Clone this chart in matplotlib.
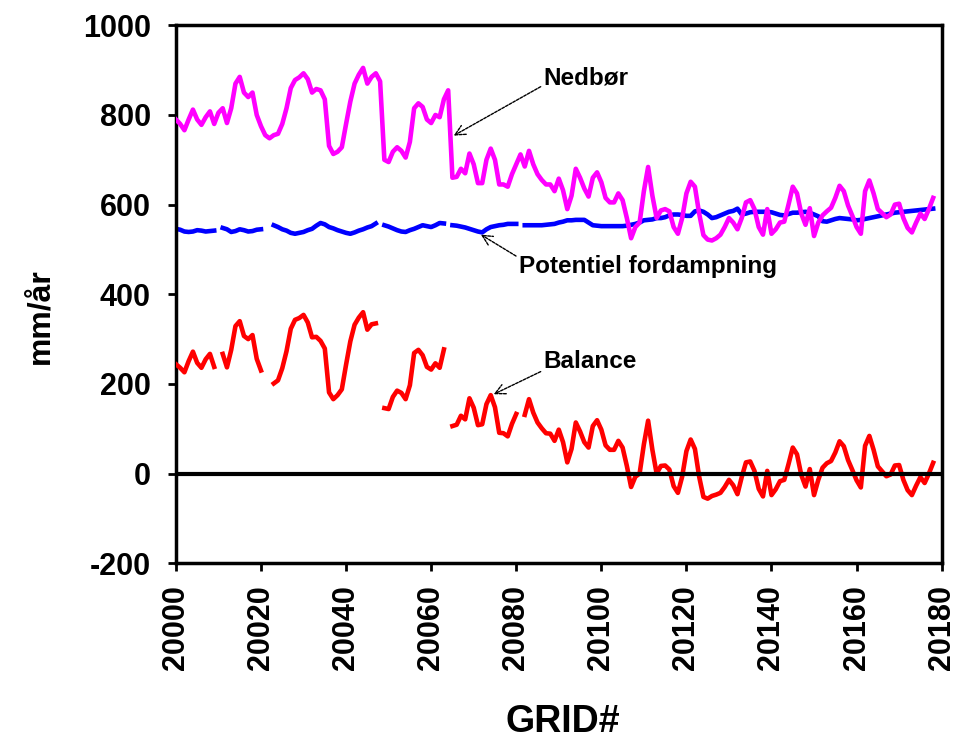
import numpy as np
import matplotlib
matplotlib.use("Agg")
import matplotlib.pyplot as plt

plt.rcParams['font.family'] = ['Liberation Sans', 'DejaVu Sans']
plt.rcParams['font.weight'] = 'bold'
plt.rcParams['axes.unicode_minus'] = False

# grid cell numbers 20000..20178
grid = np.arange(20000, 20179)

# precipitation, mm/year
nedbor = [
    790, 780, 766, 790, 812, 790, 778, 795, 808, 780,
    805, 815, 782, 815, 870, 885, 850, 840, 850, 800,
    775, 755, 748, 755, 758, 780, 815, 860, 878, 884,
    893, 880, 850, 858, 855, 835, 731, 713, 718, 728,
    780, 830, 870, 890, 905, 870, 885, 893, 875, 700,
    695, 718, 728, 720, 705, 740, 815, 826, 818, 790,
    782, 800, 795, 835, 855, 660, 662, 680, 670, 714,
    690, 648, 648, 700, 725, 700, 645, 645, 640, 668,
    690, 712, 685, 720, 690, 668, 655, 645, 645, 630,
    658, 632, 590, 620, 680, 660, 636, 618, 660, 672,
    650, 615, 605, 605, 625, 610, 570, 525, 550, 560,
    630, 684, 620, 570, 587, 590, 585, 550, 535, 570,
    625, 651, 640, 580, 532, 522, 520, 525, 533, 550,
    570, 560, 545, 570, 605, 610, 590, 550, 533, 590,
    535, 545, 560, 562, 600, 640, 625, 580, 555, 592,
    530, 560, 576, 585, 593, 615, 642, 630, 598, 575,
    550, 535, 630, 654, 625, 590, 581, 572, 578, 600,
    602, 570, 548, 538, 560, 580, 568, 590, 615,
]

# potential evaporation, mm/year (nan = missing cell)
nan = np.nan
pet = [
    546, 544, 540, 539, 540, 543, 542, 540, 541, 542,
    nan, 548, 545, 539, 541, 545, 543, 540, 541, 544,
    545, nan, nan, 554, 550, 545, 542, 537, 535, 537,
    539, 543, 546, 553, 559, 556, 550, 547, 543, 540,
    537, 535, 538, 542, 545, 549, 552, 558, nan, 554,
    551, 547, 543, 540, 539, 543, 546, 550, 554, 552,
    550, 554, 559, 558, nan, 554, 553, 551, 549, 546,
    543, 540, 538, 545, 550, 552, 554, 555, 557, 557,
    557, nan, 554, 554, 554, 554, 554, 555, 556, 557,
    560, 562, 565, 565, 566, 566, 566, 560, 554, 553,
    552, 552, 552, 552, 552, 552, 553, 555, 557, 560,
    565, 566, 567, 570, 570, 572, 576, 578, 578, 577,
    575, 575, 585, 587, 584, 578, 570, 572, 576, 580,
    584, 586, 591, 578, 580, 583, 584, 584, 584, 584,
    583, 580, 577, 576, 579, 582, 582, 583, 584, 582,
    578, 574, 563, 562, 565, 568, 570, 569, 568, 567,
    565, 566, 568, 570, 572, 574, 576, 578, 580, 582,
    583, 584, 585, 586, 587, 588, 589, 590, 591,
]

nedbor = np.array(nedbor, dtype=float)
pet = np.array(pet, dtype=float)
balance = nedbor - pet

fig = plt.figure(figsize=(9.56, 7.45), dpi=100)
ax = fig.add_axes([0.184, 0.244, 0.801, 0.722])

ax.plot(grid, pet, color='#0000FF', lw=3.3, zorder=2)
ax.plot(grid, nedbor, color='#FF00FF', lw=3.3, zorder=3)
ax.plot(grid, balance, color='#FF0000', lw=3.3, zorder=3)
ax.axhline(0, color='black', lw=3, zorder=4)

ax.set_xlim(20000, 20180)
ax.set_ylim(-200, 1000)
ax.set_xticks(np.arange(20000, 20181, 20))
ax.set_yticks(np.arange(-200, 1001, 200))
ax.tick_params(axis='x', labelrotation=90, labelsize=22, width=2, length=6,
               direction='out', pad=10)
ax.tick_params(axis='y', labelsize=22, width=2, length=6, direction='out', pad=12)
for lbl in ax.get_xticklabels() + ax.get_yticklabels():
    lbl.set_fontweight('bold')
for sp in ax.spines.values():
    sp.set_linewidth(2.5)

ax.set_ylabel('mm/år', fontsize=23, fontweight='bold')
ax.yaxis.set_label_coords(-0.158, 0.46)
ax.set_xlabel('GRID#', fontsize=27, fontweight='bold')
ax.xaxis.set_label_coords(0.505, -0.262)

arrow = dict(arrowstyle='->', color='black', lw=1, linestyle=(0, (2, 1)),
             shrinkA=0, shrinkB=0, mutation_scale=18)
ax.annotate('Nedbør', xy=(20065.3, 754), xytext=(20086.4, 882),
            fontsize=17.5, fontweight='bold', va='center', ha='left',
            arrowprops=dict(arrow, relpos=(0, 0.2)))
ax.annotate('Potentiel fordampning', xy=(20071.7, 533), xytext=(20080.6, 461),
            fontsize=17.5, fontweight='bold', va='center', ha='left',
            arrowprops=dict(arrow, relpos=(0, 0.9)))
ax.annotate('Balance', xy=(20074.7, 177), xytext=(20086.4, 251),
            fontsize=17.5, fontweight='bold', va='center', ha='left',
            arrowprops=dict(arrow, relpos=(0, 0.1)))

plt.savefig('out.png', dpi=100)
plt.close(fig)
